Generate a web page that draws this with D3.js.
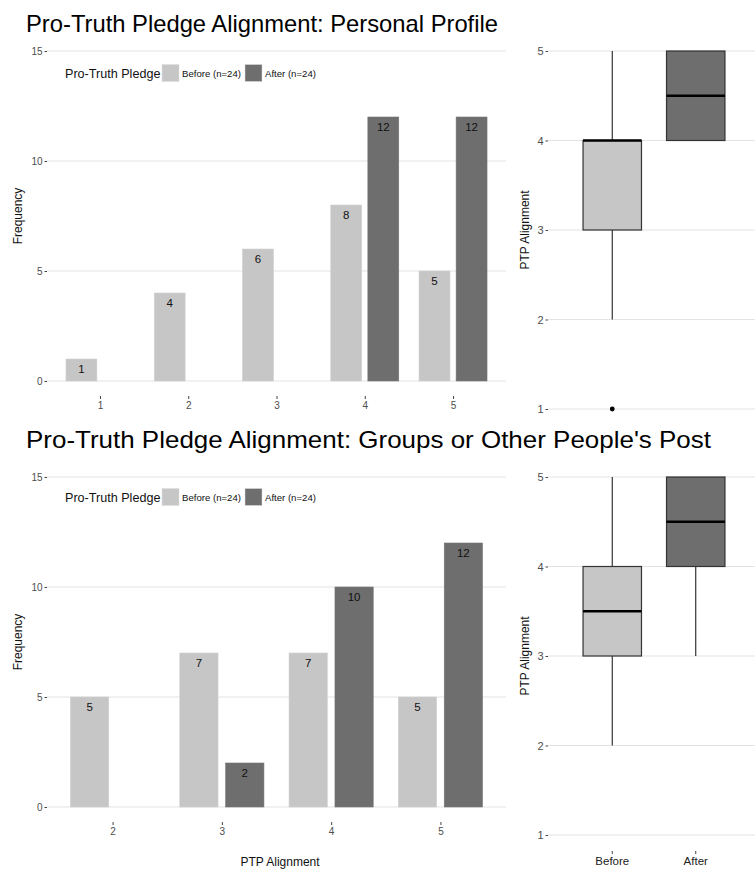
<!DOCTYPE html>
<html><head><meta charset="utf-8">
<script src="https://cdn.jsdelivr.net/npm/d3@7"></script>
<style>body{margin:0;background:#fff;} svg{display:block;font-family:"Liberation Sans",Arial,sans-serif;}</style>
</head><body>
<svg id="c" width="755" height="870"></svg>
<script>
// ---- data ----
const titles = ["Pro-Truth Pledge Alignment: Personal Profile", "Pro-Truth Pledge Alignment: Groups or Other People's Post"];
const groups = ["Before", "After"];
const legendLabels = ["Before (n=24)", "After (n=24)"];
const levelsTop = [1, 2, 3, 4, 5];
const beforeTop = [1, 4, 6, 8, 5];
const afterTop = [0, 0, 0, 12, 12];
const levelsBottom = [2, 3, 4, 5];
const beforeBottom = [5, 7, 7, 5];
const afterBottom = [0, 2, 10, 12];
const freqTicks = [0, 5, 10, 15];
const alignTicks = [1, 2, 3, 4, 5];

const colors = {Before: "#c6c6c6", After: "#6e6e6e"};
const svg = d3.select("#c");

function expand(levels, counts) { // raw responses reconstructed from counts
  const out = [];
  levels.forEach((l, i) => { for (let k = 0; k < counts[i]; k++) out.push(l); });
  return out;
}
function boxStats(vals) {
  const s = vals.slice().sort(d3.ascending);
  const q1 = d3.quantile(s, 0.25), med = d3.quantile(s, 0.5), q3 = d3.quantile(s, 0.75);
  const iqr = q3 - q1, lo = q1 - 1.5 * iqr, hi = q3 + 1.5 * iqr;
  const inside = s.filter(v => v >= lo && v <= hi);
  return {q1, med, q3, wlo: d3.min(inside), whi: d3.max(inside), out: s.filter(v => v < lo || v > hi)};
}

function panel(opt) {
  const {levels, before, after, title, titleY, top, bottom, tickY, showXTitle, showBoxX, legendY} = opt;
  const g = svg.append("g");
  g.append("text").attr("x", 26).attr("y", titleY).attr("font-size", opt.titleSize)
    .attr("textLength", opt.titleLen).attr("lengthAdjust", "spacingAndGlyphs").attr("fill", "#000").text(title);

  // bar chart
  const x = d3.scaleLinear().domain([d3.min(levels) - 0.6, d3.max(levels) + 0.6]).range([47, 506]);
  const y = d3.scaleLinear().domain([0, 15]).range([bottom, top]);
  const unit = x(1) - x(0);
  const bw = unit * 0.35, off = unit * 0.21;
  const bar = g.append("g");
  bar.selectAll("line.grid").data(freqTicks).join("line")
    .attr("x1", 47).attr("x2", 506).attr("y1", d => y(d)).attr("y2", d => y(d))
    .attr("stroke", "#e3e3e3").attr("stroke-width", 1.2);
  const yAx = bar.append("g").attr("transform", "translate(47,0)")
    .call(d3.axisLeft(y).tickValues(freqTicks).tickSize(2.5).tickPadding(2));
  yAx.select(".domain").remove();
  yAx.selectAll("line").attr("stroke", "#444");
  yAx.selectAll("text").attr("font-size", 10).attr("fill", "#4d4d4d").attr("font-family", "Liberation Sans, Arial");
  const xAx = bar.append("g").attr("transform", `translate(0,${tickY})`)
    .call(d3.axisBottom(x).tickValues(levels).tickFormat(d3.format("d")).tickSize(3).tickPadding(3));
  xAx.select(".domain").remove();
  xAx.selectAll("line").attr("stroke", "#444");
  xAx.selectAll("text").attr("font-size", 10).attr("fill", "#4d4d4d").attr("font-family", "Liberation Sans, Arial");

  const rows = [];
  levels.forEach((l, i) => {
    rows.push({l, g: "Before", v: before[i], dx: -off});
    rows.push({l, g: "After", v: after[i], dx: off});
  });
  const nz = rows.filter(r => r.v > 0);
  bar.selectAll("rect.bar").data(nz).join("rect")
    .attr("x", d => x(d.l) + d.dx - bw / 2).attr("width", bw)
    .attr("y", d => y(d.v)).attr("height", d => y(0) - y(d.v))
    .attr("fill", d => colors[d.g]).attr("stroke", d => d.g === "Before" ? "#cfcfcf" : "#757575").attr("stroke-width", 0.6);
  bar.selectAll("text.lab").data(nz).join("text")
    .attr("x", d => x(d.l) + d.dx).attr("y", d => y(d.v) + 14)
    .attr("text-anchor", "middle").attr("font-size", 11.5).attr("fill", "#111").text(d => d.v);

  bar.append("text").attr("transform", `translate(22,${(top + bottom) / 2}) rotate(-90)`)
    .attr("text-anchor", "middle").attr("font-size", 12).attr("fill", "#111").text("Frequency");
  if (showXTitle) {
    bar.append("text").attr("x", 280).attr("y", 866).attr("text-anchor", "middle")
      .attr("font-size", 12).attr("fill", "#111").text("PTP Alignment");
  }

  // legend
  const lg = g.append("g").attr("transform", `translate(0,${legendY})`);
  lg.append("text").attr("x", 65).attr("y", 5).attr("font-size", 12.6).attr("fill", "#111").text("Pro-Truth Pledge");
  const lx = [162, 245];
  groups.forEach((gr, i) => {
    lg.append("rect").attr("x", lx[i]).attr("y", -8.5).attr("width", 17).attr("height", 17)
      .attr("fill", colors[gr]).attr("stroke", "#ddd").attr("stroke-width", 0.5);
    lg.append("text").attr("x", lx[i] + 20).attr("y", 4).attr("font-size", 9.6).attr("fill", "#111").text(legendLabels[i]);
  });

  // box plot
  const by = d3.scaleLinear().domain([1, 5]).range([opt.boxBottom, top]);
  const bx = d3.scaleBand().domain(groups).range([558, 750]).padding(0.3);
  const bp = g.append("g");
  bp.selectAll("line.grid").data(alignTicks).join("line")
    .attr("x1", 548).attr("x2", 755).attr("y1", d => by(d)).attr("y2", d => by(d))
    .attr("stroke", "#e3e3e3").attr("stroke-width", 1.2);
  const byAx = bp.append("g").attr("transform", "translate(548,0)")
    .call(d3.axisLeft(by).tickValues(alignTicks).tickFormat(d3.format("d")).tickSize(2.5).tickPadding(2));
  byAx.select(".domain").remove();
  byAx.selectAll("line").attr("stroke", "#444");
  byAx.selectAll("text").attr("font-size", 11).attr("fill", "#4d4d4d").attr("font-family", "Liberation Sans, Arial");
  bp.append("text").attr("transform", `translate(529,${(top + opt.boxBottom) / 2}) rotate(-90)`)
    .attr("text-anchor", "middle").attr("font-size", 12).attr("fill", "#111").text("PTP Alignment");
  if (showBoxX) {
    const bxAx = bp.append("g").attr("transform", `translate(0,${opt.boxTickY})`)
      .call(d3.axisBottom(bx).tickSize(3).tickPadding(3));
    bxAx.select(".domain").remove();
    bxAx.selectAll("line").attr("stroke", "#444");
    bxAx.selectAll("text").attr("font-size", 11.5).attr("fill", "#222").attr("font-family", "Liberation Sans, Arial");
  }
  const stats = groups.map((gr, i) => ({g: gr, ...boxStats(expand(levels, i === 0 ? before : after))}));
  stats.forEach(s => {
    const cx = bx(s.g) + bx.bandwidth() / 2, w = bx.bandwidth();
    const bg = bp.append("g");
    bg.append("line").attr("x1", cx).attr("x2", cx).attr("y1", by(s.q3)).attr("y2", by(s.whi)).attr("stroke", "#222").attr("stroke-width", 1.1);
    bg.append("line").attr("x1", cx).attr("x2", cx).attr("y1", by(s.q1)).attr("y2", by(s.wlo)).attr("stroke", "#222").attr("stroke-width", 1.1);
    bg.append("rect").attr("x", cx - w / 2).attr("width", w).attr("y", by(s.q3)).attr("height", by(s.q1) - by(s.q3))
      .attr("fill", colors[s.g]).attr("stroke", "#333").attr("stroke-width", 1.2);
    bg.append("line").attr("x1", cx - w / 2).attr("x2", cx + w / 2).attr("y1", by(s.med)).attr("y2", by(s.med))
      .attr("stroke", "#000").attr("stroke-width", 2.4);
    bg.selectAll("circle").data(s.out).join("circle").attr("cx", cx).attr("cy", d => by(d)).attr("r", 2.4).attr("fill", "#000");
  });
}

panel({levels: levelsTop, before: beforeTop, after: afterTop, title: titles[0], titleY: 32, titleSize: 24, titleLen: 472,
  top: 51, bottom: 381, tickY: 396, legendY: 73, boxBottom: 409, showXTitle: false, showBoxX: false});
panel({levels: levelsBottom, before: beforeBottom, after: afterBottom, title: titles[1], titleY: 448, titleSize: 24.5, titleLen: 685,
  top: 477, bottom: 807, tickY: 822, legendY: 497, boxBottom: 835, boxTickY: 851, showXTitle: true, showBoxX: true});
</script>
</body></html>
